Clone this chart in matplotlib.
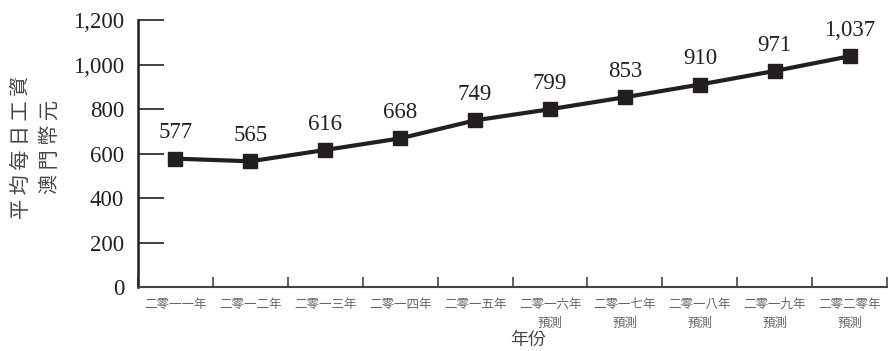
import numpy as np
import matplotlib.pyplot as plt

plt.rcParams['font.family'] = ['Liberation Serif', 'Noto Sans CJK TC']

years = ['二零一一年', '二零一二年', '二零一三年', '二零一四年', '二零一五年',
         '二零一六年', '二零一七年', '二零一八年', '二零一九年', '二零二零年']
forecast = [False, False, False, False, False, True, True, True, True, True]
wages = [577, 565, 616, 668, 749, 799, 853, 910, 971, 1037]

ink = '#231f20'
cjk = ['Noto Sans CJK TC', 'DejaVu Sans']

fig = plt.figure(figsize=(8.88, 3.51), dpi=100)
ax = fig.add_axes([0.1554, 0.1823, 0.8436, 0.7607])

x = np.arange(len(years))
ax.plot(x, wages, color=ink, lw=3, marker='s', ms=10, mfc=ink, mec=ink)

for xi, v in zip(x, wages):
    ax.annotate(f'{v:,}', (xi, v), xytext=(0, 11), textcoords='offset points',
                ha='center', va='bottom', fontsize=16.5, color=ink)

ax.set_xlim(-0.5, len(years) - 0.5)
ax.set_ylim(0, 1200)
ax.set_yticks(range(0, 1201, 200))
ax.set_yticklabels([f'{v:,}' for v in range(0, 1201, 200)], fontsize=16.5, color=ink)

# category boundaries carry the tick marks, labels sit at centres
ax.set_xticks(np.arange(-0.5, len(years) + 0.5, 1), minor=True)
ax.set_xticks(x)
labels = [y + ('\n預測' if f else '') for y, f in zip(years, forecast)]
ax.set_xticklabels(labels, fontsize=9, color='#666666', family=cjk, va='top',
                   linespacing=1.6)
ax.tick_params(axis='x', which='major', length=0, pad=8)
ax.tick_params(axis='x', which='minor', direction='in', length=7, width=1.2, color='#444444')
ax.tick_params(axis='y', direction='in', length=19, width=1.2, color=ink, pad=10)

for s in ['top', 'right']:
    ax.spines[s].set_visible(False)
ax.spines['left'].set_color(ink)
ax.spines['left'].set_linewidth(1.8)
ax.spines['bottom'].set_color('#444444')
ax.spines['bottom'].set_linewidth(1.5)

fig.text(0.024, 0.581, '平 均 每 日 工 資', rotation=90, ha='center', va='center',
         fontsize=14.5, color='#444444', family=cjk)
fig.text(0.057, 0.581, '澳 門 幣 元', rotation=90, ha='center', va='center',
         fontsize=14.5, color='#444444', family=cjk)
fig.text(0.595, 0.032, '年份', ha='center', va='center', fontsize=13,
         color='#444444', family=cjk)

fig.savefig('out.png', dpi=100)
